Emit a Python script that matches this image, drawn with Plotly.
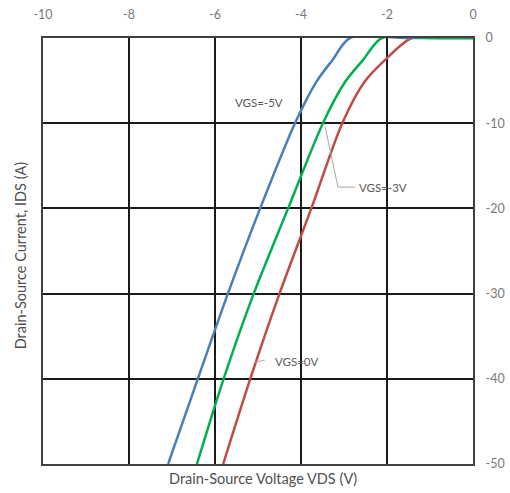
import plotly.graph_objects as go

# Data
vds_m5 = [0, -1.5, -2.86, -3.27, -3.65, -4.14, -4.95, -5.70, -6.40, -7.09]
ids_m5 = [0, 0, 0, -2.6, -5.2, -10, -20, -30, -40, -50]
vds_m3 = [0, -1.0, -2.12, -2.56, -2.98, -3.49, -4.30, -5.10, -5.80, -6.42]
ids_m3 = [0, 0, 0, -2.6, -5.2, -10, -20, -30, -40, -50]
vds_0 = [0, -0.7, -1.42, -2.05, -2.53, -3.04, -3.76, -4.50, -5.18, -5.81]
ids_0 = [0, 0, 0, -2.6, -5.2, -10, -20, -30, -40, -50]

x_ticks = [-10, -8, -6, -4, -2, 0]
y_ticks = [0, -10, -20, -30, -40, -50]

lead_m3_x = [-3.44, -3.14, -2.74]
lead_m3_y = [-10.4, -17.5, -17.5]
lead_0_x = [-5.10, -4.84]
lead_0_y = [-38.1, -37.8]

FONT = "Lato, 'Open Sans', sans-serif"
GRAY = "#595959"
TICKGRAY = "#7a7a7a"

fig = go.Figure()
sm = 0.85
fig.add_trace(go.Scatter(x=vds_0, y=ids_0, mode="lines", line=dict(color="#BE4B48", width=2.5, shape="spline", smoothing=sm), name="VGS=0V"))
fig.add_trace(go.Scatter(x=vds_m5, y=ids_m5, mode="lines", line=dict(color="#4A7EBB", width=2.5, shape="spline", smoothing=sm), name="VGS=-5V"))
fig.add_trace(go.Scatter(x=vds_m3, y=ids_m3, mode="lines", line=dict(color="#00B050", width=2.5, shape="spline", smoothing=sm), name="VGS=-3V"))
fig.add_trace(go.Scatter(x=lead_m3_x, y=lead_m3_y, mode="lines", line=dict(color="#A6A6A6", width=1), hoverinfo="skip"))
fig.add_trace(go.Scatter(x=lead_0_x, y=lead_0_y, mode="lines", line=dict(color="#A6A6A6", width=1), hoverinfo="skip"))

fig.add_annotation(x=-4.98, y=-7.6, text="VGS=-5V", showarrow=False, font=dict(family=FONT, size=11.5, color=GRAY))
fig.add_annotation(x=-2.70, y=-17.5, text="VGS=-3V", showarrow=False, xanchor="left", font=dict(family=FONT, size=11.5, color=GRAY))
fig.add_annotation(x=-4.65, y=-38.0, text="VGS=0V", showarrow=False, xanchor="left", font=dict(family=FONT, size=11.5, color=GRAY))

fig.add_annotation(xref="paper", yref="paper", x=0.512, y=0, yshift=-14, yanchor="middle",
                   text="Drain-Source Voltage VDS (V)",
                   showarrow=False, font=dict(family=FONT, size=14.5, color="#505050"))
fig.add_annotation(xref="paper", yref="paper", x=0, xshift=-23, xanchor="center", y=0.49, textangle=-90,
                   text="Drain-Source Current, IDS (A)",
                   showarrow=False, font=dict(family=FONT, size=14.5, color="#505050"))

fig.update_layout(
    width=510, height=493,
    margin=dict(l=43, r=37, t=38, b=29),
    paper_bgcolor="white", plot_bgcolor="white",
    showlegend=False,
    font=dict(family=FONT, size=12, color=GRAY),
    xaxis=dict(range=[-10, 0], side="top", tickvals=x_ticks, ticktext=[str(v) for v in x_ticks],
               automargin=False,
               showgrid=True, gridcolor="#1a1a1a", gridwidth=1.8, zeroline=False,
               showline=True, linecolor="#404040", linewidth=2.2, mirror=True,
               ticks="outside", ticklen=12, tickcolor="rgba(0,0,0,0)",
               tickfont=dict(size=12.5, color=TICKGRAY)),
    yaxis=dict(range=[-50, 0], side="right", tickvals=y_ticks, ticktext=[str(v) for v in y_ticks],
               automargin=False,
               showgrid=True, gridcolor="#1a1a1a", gridwidth=1.8, zeroline=False,
               showline=True, linecolor="#404040", linewidth=2.2, mirror=True,
               ticks="outside", ticklen=8, tickcolor="rgba(0,0,0,0)",
               tickfont=dict(size=12.5, color=TICKGRAY)),
)

fig.write_html("out.html")
